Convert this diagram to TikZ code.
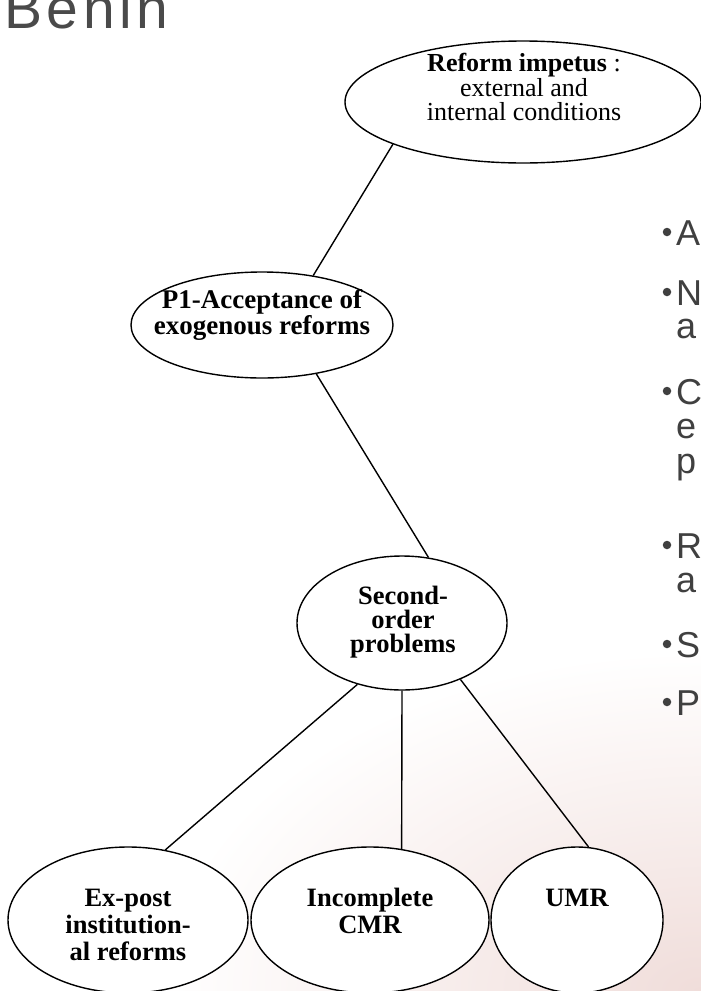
\documentclass[tikz,border=0pt]{standalone}
\usepackage{fontspec}
\setmainfont{Liberation Serif}
\newfontfamily\bulletfont{Liberation Sans}
\newfontfamily\titlefont[LetterSpace=8]{Liberation Sans}
\usetikzlibrary{shapes.geometric}
\definecolor{graytext}{HTML}{404040}
\definecolor{titlegray}{HTML}{4A4A4A}
\definecolor{pinkbg}{RGB}{240,221,218}
\begin{document}
\begin{tikzpicture}[x=1pt,y=-1pt,
  oval/.style={draw=black, line width=1.4pt, fill=white, ellipse, inner sep=0pt},
  lbl/.style={align=center, inner sep=0pt, font=\fontsize{26.5}{24}\selectfont\bfseries},
  link/.style={draw=black, line width=1.4pt},
  bul/.style={anchor=base west, inner sep=0pt, text=graytext, font=\bulletfont\fontsize{36}{36}\selectfont},
  bdot/.style={circle, fill=graytext, inner sep=0pt, minimum size=8.5pt}]
\useasboundingbox (0,0) rectangle (701,991);
\clip (0,0) rectangle (701,991);
\fill[white] (0,0) rectangle (701,991);
\shade[inner color=pinkbg, outer color=white] (701,991) ellipse (540pt and 340pt);

% title
\node[anchor=base west, inner sep=0pt, text=titlegray, font=\titlefont\fontsize{57}{57}\selectfont] (title) at (4,28) {Benin};

% ellipses
\node[oval, minimum width=356pt, minimum height=122pt] (top) at (523,102) {};
\node[lbl, font=\fontsize{26}{24.5}\selectfont] (toptxt) at (524,87) {\textbf{Reform impetus} :\\external and\\internal conditions};

\node[oval, minimum width=262pt, minimum height=106pt] (p1) at (262,325) {};
\node[lbl, font=\fontsize{27}{26}\selectfont\bfseries] (p1txt) at (262,315) {P1-Acceptance of\\exogenous reforms};

\node[oval, minimum width=210pt, minimum height=134pt] (sec) at (402,623) {};
\node[lbl] (sectxt) at (403,622) {Second-\\order\\problems};

\node[oval, minimum width=240pt, minimum height=146pt] (expost) at (128,920) {};
\node[lbl, font=\fontsize{26.5}{27}\selectfont\bfseries] (expostxt) at (128,925) {Ex-post\\institution-\\al reforms};

\node[oval, minimum width=238pt, minimum height=146pt] (inc) at (370,920) {};
\node[lbl, font=\fontsize{26.5}{27}\selectfont\bfseries] (inctxt) at (370,911) {Incomplete\\CMR};

\node[oval, minimum width=172pt, minimum height=146pt] (umr) at (577,920) {};
\node[lbl] (umrtxt) at (577,898) {UMR};

% connectors
\draw[link] (top.198) -- (p1.44);
\draw[link] (p1.318) -- (sec.68);
\draw[link] (sec.234) -- (expost.62);
\draw[link] (sec.south) -- (inc.66);
\draw[link] (sec.316) -- (umr.81);

% bullets
\node[bdot] (d1) at (667,232) {};
\node[bul] (b1) at (676,245) {A};
\node[bdot] (d2) at (667,292) {};
\node[bul] (b2) at (676,305) {N};
\node[bul] (b2b) at (676,338) {a};
\node[bdot] (d3) at (667,391) {};
\node[bul] (b3) at (676,404) {C};
\node[bul] (b3b) at (676,438) {e};
\node[bul] (b3c) at (676,473) {p};
\node[bdot] (d4) at (667,545) {};
\node[bul] (b4) at (676,558) {R};
\node[bul] (b4b) at (676,592) {a};
\node[bdot] (d5) at (667,644) {};
\node[bul] (b5) at (676,657) {S};
\node[bdot] (d6) at (667,702) {};
\node[bul] (b6) at (676,715) {P};
\end{tikzpicture}
\end{document}
